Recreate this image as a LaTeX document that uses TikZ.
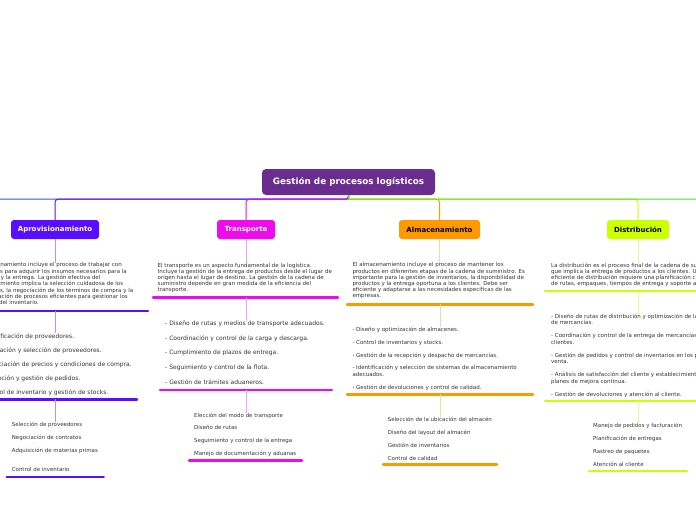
\documentclass[tikz,border=0pt]{standalone}
\usepackage{fontspec}
\setmainfont{DejaVu Sans}
\definecolor{cen}{HTML}{6A2D8F}
\definecolor{apro}{HTML}{5A0EFF}
\definecolor{tra}{HTML}{EE0CEE}
\definecolor{alm}{HTML}{FF9900}
\definecolor{dis}{HTML}{CCFF00}
\definecolor{offb}{HTML}{2E5BD8}
\definecolor{offg}{HTML}{4CDD2C}
\definecolor{txt}{HTML}{333333}
\begin{document}
\begin{tikzpicture}[x=1pt,y=-1pt,
  topic/.style={rounded corners=3pt, minimum height=19pt, inner sep=0pt, font=\fontsize{7}{8}\selectfont\bfseries},
  blk/.style={anchor=north west, inner sep=0pt, align=left, text=txt},
  fpara/.style={font=\fontsize{5.5}{6.25}\selectfont},
  fsub/.style={font=\fontsize{5.45}{6.5}\selectfont},
  ul/.style={line width=2.5pt, line cap=round},
  conn/.style={line width=1pt},
  sconn/.style={line width=1pt},
]
\useasboundingbox (0,0) rectangle (696,520);
\clip (0,0) rectangle (696,520);

% central topic
\node[topic, fill=cen, text=white, minimum width=173pt, minimum height=26pt, rounded corners=4pt,
      font=\fontsize{8.8}{10}\selectfont\bfseries] (c) at (348.5,182) {Gestión de procesos logísticos};

% main topics
\node[topic, fill=apro, text=white, minimum width=88pt] (apro) at (55,229.5) {Aprovisionamiento};
\node[topic, fill=tra, text=white, minimum width=58pt] (tra) at (246,229.5) {Transporte};
\node[topic, fill=alm, text=black, minimum width=81pt] (alm) at (439.5,229.5) {Almacenamiento};
\node[topic, fill=dis, text=black, minimum width=62pt] (dis) at (638,229.5) {Distribución};

\coordinate (offl) at (-5,199);
\coordinate (offr) at (701,199);

% main connectors
\draw[conn, offb] (c.south) -- ++(0,4) -- (offl);
\draw[conn, apro, rounded corners=3pt] (c.south) -- ++(0,4) -| (apro.north);
\draw[conn, tra, rounded corners=3pt] (c.south) -- ++(0,4) -| (tra.north);
\draw[conn, alm, rounded corners=3pt] (c.south) -- ++(0,4) -| (alm.north);
\draw[conn, dis, rounded corners=3pt] (c.south) -- ++(0,4) -| (dis.north);
\draw[conn, offg] (c.south) -- ++(0,4) -- (offr);

% ---------- Aprovisionamiento ----------
\node[blk, font=\fontsize{5.5}{6.3}\selectfont] (ap) at (-31.5,262.5) {El aprovisionamiento incluye el proceso de trabajar con\\proveedores para adquirir los insumos necesarios para la\\producción y la entrega. La gestión efectiva del\\aprovisionamiento implica la selección cuidadosa de los\\proveedores, la negociación de los términos de compra y la\\implementación de procesos eficientes para gestionar los\\compras y del inventario.};
\node[blk, font=\fontsize{6}{7}\selectfont] (al) at (-21,333.2) {- Identificación de proveedores.\\[7pt]- Evaluación y selección de proveedores.\\[7pt]- Negociación de precios y condiciones de compra.\\[7pt]- Recepción y gestión de pedidos.\\[7pt]- Control de inventario y gestión de stocks.};
\node[blk, fsub] (as) at (11.7,421.5) {Selección de proveedores\\[6.5pt]Negociación de contratos\\[6.5pt]Adquisición de materias primas\\[12.5pt]Control de inventario};
\coordinate (apu1) at (55,311);
\coordinate (apu2) at (55,399.3);
\draw[ul, apro] (-40,311) -- (148,311);
\draw[ul, apro] (-25,399.3) -- (137,399.3);
\draw[ul, apro] (6.7,477) -- (103.7,477);
\draw[sconn, apro!45] (apro.south) -- (apro.south |- ap.north);
\draw[sconn, apro!45] (apu1) -- (apu1 |- al.north);
\draw[sconn, apro!45] (apu2) -- (apu2 |- as.north);

% ---------- Transporte ----------
\node[blk, font=\fontsize{5.5}{6.1}\selectfont] (tp) at (157.5,262.5) {El transporte es un aspecto fundamental de la logística.\\Incluye la gestión de la entrega de productos desde el lugar de\\origen hasta el lugar de destino. La gestión de la cadena de\\suministro depende en gran medida de la eficiencia del\\transporte.};
\node[blk, font=\fontsize{6}{7.4}\selectfont] (tl) at (165,320.5) {- Diseño de rutas y medios de transporte adecuados.\\[7.4pt]- Coordinación y control de la carga y descarga.\\[7.4pt]- Cumplimiento de plazos de entrega.\\[7.4pt]- Seguimiento y control de la flota.\\[7.4pt]- Gestión de trámites aduaneros.};
\node[blk, font=\fontsize{5.45}{6.4}\selectfont] (ts) at (194,412.5) {Elección del modo de transporte\\[6.4pt]Diseño de rutas\\[6.4pt]Seguimiento y control de la entrega\\[6.4pt]Manejo de documentación y aduanas};
\coordinate (tru1) at (246,297.7);
\coordinate (tru2) at (246,390);
\draw[ul, tra] (153,297.7) -- (338,297.7);
\draw[ul, tra] (160,390) -- (332,390);
\draw[ul, tra] (189,460.7) -- (302,460.7);
\draw[sconn, tra!40] (tra.south) -- (tra.south |- tp.north);
\draw[sconn, tra!40] (tru1) -- (tru1 |- tl.north);
\draw[sconn, tra!40] (tru2) -- (tru2 |- ts.north);

% ---------- Almacenamiento ----------
\node[blk, font=\fontsize{5.5}{6.2}\selectfont] (mp) at (352.3,262.5) {El almacenamiento incluye el proceso de mantener los\\productos en diferentes etapas de la cadena de suministro. Es\\importante para la gestión de inventarios, la disponibilidad de\\productos y la entrega oportuna a los clientes. Debe ser\\eficiente y adaptarse a las necesidades específicas de las\\empresas.};
\node[blk, font=\fontsize{5.5}{6.4}\selectfont] (ml) at (352.3,326.8) {- Diseño y optimización de almacenes.\\[6.4pt]- Control de inventarios y stocks.\\[6.4pt]- Gestión de la recepción y despacho de mercancías.\\[6.4pt]- Identificación y selección de sistemas de almacenamiento\\adecuados.\\[6.4pt]- Gestión de devoluciones y control de calidad.};
\node[blk, fsub] (ms) at (387.7,416.5) {Selección de la ubicación del almacén\\[6.5pt]Diseño del layout del almacén\\[6.5pt]Gestión de inventarios\\[6.5pt]Control de calidad};
\coordinate (mu1) at (440,304.3);
\coordinate (mu2) at (440,394.3);
\draw[ul, alm] (347,304.3) -- (533,304.3);
\draw[ul, alm] (347,394.3) -- (533,394.3);
\draw[ul, alm] (383,464.7) -- (497,464.7);
\draw[sconn, alm!40] (alm.south) -- (alm.south |- mp.north);
\draw[sconn, alm!40] (mu1) -- (mu1 |- ml.north);
\draw[sconn, alm!40] (mu2) -- (mu2 |- ms.north);

% ---------- Distribución ----------
\node[blk, font=\fontsize{5.5}{6.2}\selectfont] (dp) at (551,262.5) {La distribución es el proceso final de la cadena de suministro\\que implica la entrega de productos a los clientes. Una gestión\\eficiente de distribución requiere una planificación cuidadosa\\de rutas, empaques, tiempos de entrega y soporte al cliente.};
\node[blk, font=\fontsize{5.5}{6.5}\selectfont] (dl) at (551,313.5) {- Diseño de rutas de distribución y optimización de la entrega\\de mercancías.\\[6.5pt]- Coordinación y control de la entrega de mercancías a los\\clientes.\\[6.5pt]- Gestión de pedidos y control de inventarios en los puntos de\\venta.\\[6.5pt]- Análisis de satisfacción del cliente y establecimiento de\\planes de mejora continua.\\[6.5pt]- Gestión de devoluciones y atención al cliente.};
\node[blk, fsub] (ds) at (593,422.5) {Manejo de pedidos y facturación\\[6.5pt]Planificación de entregas\\[6.5pt]Rastreo de paquetes\\[6.5pt]Atención al cliente};
\coordinate (du1) at (638,291);
\coordinate (du2) at (638,401);
\draw[ul, dis] (545,291) -- (740,291);
\draw[ul, dis] (545,401) -- (740,401);
\draw[ul, dis] (589,471) -- (687,471);
\draw[sconn, dis!50] (dis.south) -- (dis.south |- dp.north);
\draw[sconn, dis!50] (du1) -- (du1 |- dl.north);
\draw[sconn, dis!50] (du2) -- (du2 |- ds.north);
\end{tikzpicture}
\end{document}
